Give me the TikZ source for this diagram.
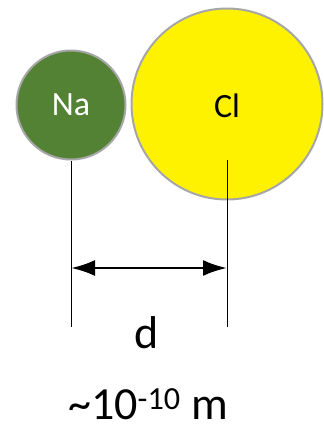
\documentclass[tikz,border=0pt]{standalone}
\usepackage{fontspec}
\setmainfont{Carlito}
\usepackage{tikz}
\usetikzlibrary{arrows.meta, positioning}

\definecolor{nagreen}{RGB}{84,130,53}
\definecolor{atomgray}{RGB}{166,166,166}

\begin{document}
\begin{tikzpicture}[
        x=1pt, y=-1pt,
        % the two ions
        atom/.style={circle, draw=atomgray, line width=2pt, inner sep=0pt},
        atomlabel/.style={font=\fontsize{34}{34}\selectfont},
        % the measurement
        guide/.style={line width=0.9pt},
        dim/.style={line width=2.6pt, {Latex[length=24pt,width=16pt]}-{Latex[length=24pt,width=16pt]}},
        biglabel/.style={font=\fontsize{46}{46}\selectfont, inner sep=0pt}
    ]
    \useasboundingbox (0,0) rectangle (324,429);

    \node [atom, fill=nagreen, minimum size=109pt] (na) at (71,105) {};
    \node [atom, fill=yellow, minimum size=191pt] (cl) at (227,104) {};
    \node [atomlabel, text=white] (nalabel) at (71,105) {Na};
    \node [atomlabel] (cllabel) at (227,106) {Cl};

    % guide lines down from the centres
    \coordinate (clstart) at (227,160);
    \coordinate (naend) at (71,327);
    \coordinate (clend) at (227,327);
    \draw [guide] (na.south) -- (naend);
    \draw [guide] (clstart) -- (clend);

    \coordinate (left) at (71,268);
    \coordinate (right) at (227,268);
    \draw [dim] (left) -- (right);

    \node [biglabel, anchor=base] (d) at (147,348) {d};
    \node [biglabel, anchor=base] (size) at (148,419) {\textasciitilde 10\textsuperscript{-10} m};
\end{tikzpicture}
\end{document}
